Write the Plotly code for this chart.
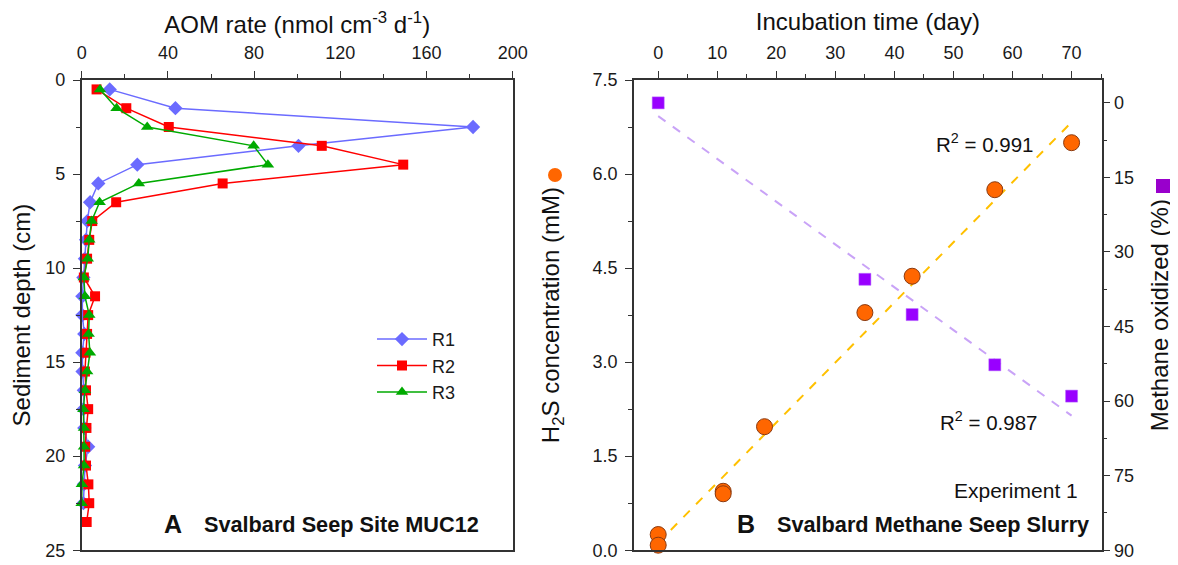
import plotly.graph_objects as go
import numpy as np

# ---------------- Panel A data ----------------
depth = [0.5, 1.5, 2.5, 3.5, 4.5, 5.5, 6.5, 7.5, 8.5, 9.5, 10.5, 11.5,
         12.5, 13.5, 14.5, 15.5, 16.5, 17.5, 18.5, 19.5, 20.5, 21.5, 22.5, 23.5]
r1 = [13.0, 43.5, 181.6, 100.6, 25.8, 7.7, 3.9, 2.6, 2.0, 1.5, 0.8, 0.3,
      0.3, 1.2, 0.3, 0.4, 1.0, 0.8, 1.2, 3.0, 1.5, 1.0, 0.8, None]
r2 = [6.9, 20.7, 40.4, 111.4, 149.2, 65.4, 16.0, 4.9, 3.5, 2.5, 1.0, 6.2,
      3.0, 2.5, 1.8, 1.5, 2.0, 3.0, 2.2, 1.6, 2.0, 3.1, 3.5, 2.3]
r3 = [8.5, 16.2, 30.4, 79.8, 86.4, 26.5, 8.3, 4.6, 3.5, 2.8, 1.0, 1.5,
      3.5, 3.2, 3.8, 2.5, 1.5, 0.8, 1.1, 1.1, 1.1, 0.1, 0.0, None]

# ---------------- Panel B data ----------------
h2s_day = [0, 0, 11, 11, 18, 35, 43, 57, 70]
h2s_mM = [0.25, 0.08, 0.94, 0.90, 1.97, 3.79, 4.37, 5.75, 6.50]
ch4_day = [0, 35, 43, 57, 70]
ch4_pct = [0.0, 35.5, 42.6, 52.7, 59.0]

a_ticks = [0, 40, 80, 120, 160, 200]
depth_ticks = [0, 5, 10, 15, 20, 25]
day_ticks = [0, 10, 20, 30, 40, 50, 60, 70]
h2s_ticks = [0.0, 1.5, 3.0, 4.5, 6.0, 7.5]
ch4_ticks = [0, 15, 30, 45, 60, 75, 90]

FONT = "Liberation Sans, Arial, sans-serif"
BLUE = "#6B6BFF"
RED = "#FF0000"
GREEN = "#00AA00"

# page has an 8 px body margin; figure is sized to fit inside the window
W, H, OFF = 1170, 549, 8


def px(x):
    return (x - OFF) / W


def py(y):
    return 1 - (y - OFF) / H


fig = go.Figure()

for name, vals, col, sym in [("R1", r1, BLUE, "diamond"),
                             ("R2", r2, RED, "square"),
                             ("R3", r3, GREEN, "triangle-up")]:
    fig.add_trace(go.Scatter(
        x=vals, y=depth, name=name, mode="lines+markers",
        line=dict(color=col, width=1.5),
        marker=dict(symbol=sym, size=11 if sym != "square" else 10, color=col),
        xaxis="x", yaxis="y", cliponaxis=False, showlegend=True))

# regression lines (computed from the data)
c1 = np.polyfit(h2s_day, h2s_mM, 1)
c2 = np.polyfit(ch4_day, ch4_pct, 1)
fit_x = np.array([min(h2s_day), max(h2s_day)])

fig.add_trace(go.Scatter(
    x=fit_x, y=np.polyval(c2, fit_x), mode="lines",
    line=dict(color="#C9A3F7", width=2, dash="dash"),
    xaxis="x2", yaxis="y3", showlegend=False))
fig.add_trace(go.Scatter(
    x=fit_x, y=np.polyval(c1, fit_x), mode="lines",
    line=dict(color="#FFC000", width=2, dash="dash"),
    xaxis="x2", yaxis="y2", showlegend=False))
fig.add_trace(go.Scatter(
    x=ch4_day, y=ch4_pct, mode="markers",
    marker=dict(symbol="square", size=12, color="#9900FF",
                line=dict(color="#B366FF", width=0.5)),
    xaxis="x2", yaxis="y3", showlegend=False, cliponaxis=False))
fig.add_trace(go.Scatter(
    x=h2s_day, y=h2s_mM, mode="markers",
    marker=dict(symbol="circle", size=16, color="#FF6600",
                line=dict(color="#8A3A10", width=1)),
    xaxis="x2", yaxis="y2", showlegend=False, cliponaxis=False))

tickfont = dict(family=FONT, size=18, color="#1a1a1a")
titlefont = dict(family=FONT, size=24, color="#111")
common = dict(showline=True, linecolor="#333", linewidth=1.5, ticks="outside",
              ticklen=7, tickwidth=1.2, tickcolor="#333", showgrid=False,
              zeroline=False, tickfont=tickfont, automargin=False,
              ticklabeloverflow="allow")

ydom = [py(550.2), py(80)]

fig.update_layout(
    width=W, height=H,
    margin=dict(l=0, r=0, t=0, b=0, autoexpand=False),
    paper_bgcolor="white", plot_bgcolor="white",
    font=dict(family=FONT),
    xaxis=dict(domain=[px(81.7), px(512.7)], side="top", anchor="y", range=[0, 200],
               tickvals=a_ticks, mirror=True, ticklabelstandoff=5,
               minor=dict(dtick=20, ticks="outside", ticklen=4, tickcolor="#333"),
               title=dict(text="AOM rate (nmol cm<sup>-3</sup> d<sup>-1</sup>)",
                          font=titlefont, standoff=8),
               **common),
    yaxis=dict(domain=ydom, anchor="x", range=[25, 0],
               tickvals=depth_ticks, mirror=True, ticklabelstandoff=4,
               minor=dict(dtick=2.5, ticks="outside", ticklen=4, tickcolor="#333"),
               title=dict(text="Sediment depth (cm)", font=titlefont, standoff=11),
               **common),
    xaxis2=dict(domain=[px(634), px(1101.7)], side="top", anchor="y2",
                range=[-4.1, 75.1], tickvals=day_ticks, mirror=True,
                ticklabelstandoff=5,
                minor=dict(dtick=5, ticks="outside", ticklen=4, tickcolor="#333"),
                title=dict(text="Incubation time (day)", font=titlefont, standoff=8),
                **common),
    yaxis2=dict(domain=ydom, anchor="x2", range=[0, 7.5],
                tickvals=h2s_ticks, tickformat=".1f", ticklabelstandoff=4,
                minor=dict(dtick=0.75, ticks="outside", ticklen=4, tickcolor="#333"),
                title=dict(text="H<sub>2</sub>S concentration (mM)", font=titlefont,
                           standoff=26),
                **common),
    yaxis3=dict(domain=ydom, anchor="x2", overlaying="y2", side="right",
                range=[90, -4.6], tickvals=ch4_ticks,
                minor=dict(dtick=7.5, ticks="outside", ticklen=4, tickcolor="#333"),
                title=dict(text="Methane oxidized (%)", font=titlefont, standoff=18),
                **common),
    legend=dict(x=px(372), y=py(320.9), xanchor="left", yanchor="top",
                bgcolor="rgba(0,0,0,0)", font=dict(family=FONT, size=18, color="#1a1a1a"),
                itemwidth=50, tracegroupgap=0),
)

ann = [
    dict(x=173, y=524, text="<b>A</b>", size=25, xanchor="center"),
    dict(x=202, y=524, text="<b>Svalbard Seep Site MUC12</b>", size=21.7, xanchor="left"),
    dict(x=746, y=524, text="<b>B</b>", size=25, xanchor="center"),
    dict(x=775, y=524, text="<b>Svalbard Methane Seep Slurry</b>", size=21.7,
         xanchor="left"),
    dict(x=952, y=490, text="Experiment 1", size=21, xanchor="left"),
    dict(x=934, y=143, text="R<sup>2</sup> = 0.991", size=20.5, xanchor="left"),
    dict(x=938, y=421, text="R<sup>2</sup> = 0.987", size=20.5, xanchor="left"),
]
for a in ann:
    fig.add_annotation(x=px(a["x"]), y=py(a["y"]), xref="paper", yref="paper",
                       text=a["text"], showarrow=False, xanchor=a["xanchor"],
                       yanchor="middle", font=dict(family=FONT, size=a["size"], color="#111"))

# key symbols beside the two y-axis titles
fig.add_shape(type="circle", xref="paper", yref="paper",
              x0=px(548), x1=px(562), y0=py(182), y1=py(168),
              fillcolor="#FF6600", line=dict(width=0))
fig.add_shape(type="rect", xref="paper", yref="paper",
              x0=px(1156), x1=px(1170), y0=py(193), y1=py(179),
              fillcolor="#9900CC", line=dict(width=0))

fig.write_html("out.html")
